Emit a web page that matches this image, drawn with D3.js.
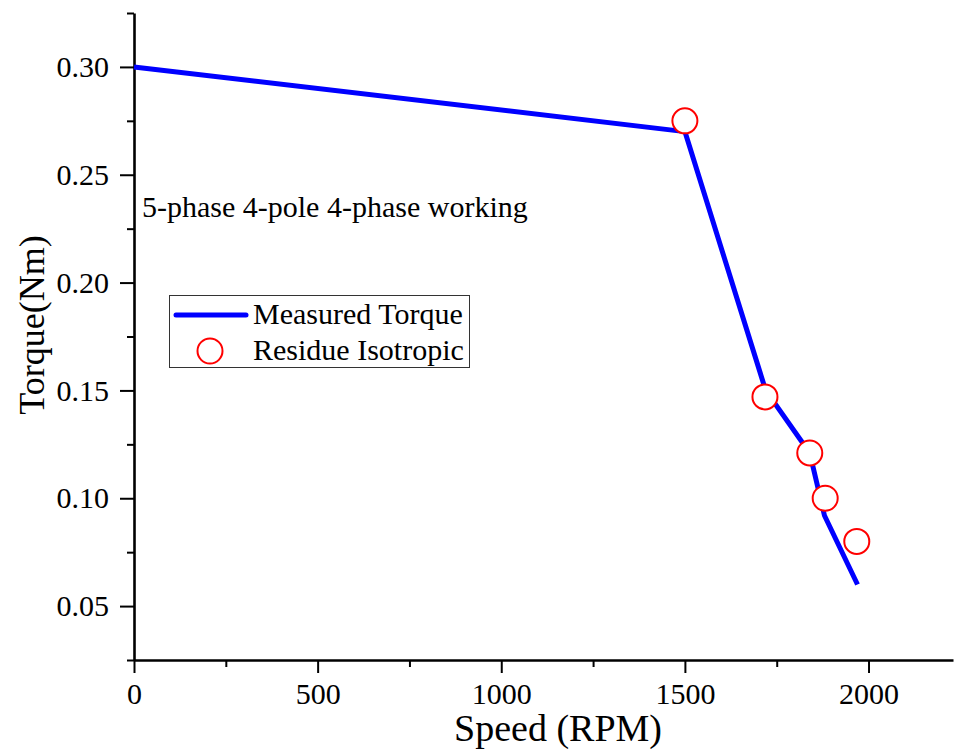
<!DOCTYPE html>
<html>
<head>
<meta charset="utf-8">
<script src="https://cdn.jsdelivr.net/npm/d3@7"></script>
<style>
  body { margin: 0; background: #fff; }
  svg { display: block; }
  text { font-family: "Liberation Serif", "Times New Roman", serif; fill: #000; }
</style>
</head>
<body>
<div id="chart"></div>
<script>
// measured torque curve
const lineSpeed = [0, 1500, 1720, 1840, 1880, 1970];
const lineTorque = [0.3, 0.27, 0.15, 0.121, 0.092, 0.06];

// residue isotropic points
const markSpeed = [1500, 1718, 1840, 1882, 1968];
const markTorque = [0.275, 0.147, 0.121, 0.1, 0.08];

const xTicks = [0, 500, 1000, 1500, 2000];
const yTicks = [0.05, 0.1, 0.15, 0.2, 0.25, 0.3];

const seriesNames = ["Measured Torque", "Residue Isotropic"];
const note = "5-phase 4-pole 4-phase working";

const width = 954,
  height = 753;
const margin = { top: 13, right: 0, bottom: 93, left: 134 };
const serif = '"Liberation Serif", "Times New Roman", serif';

const svg = d3
  .select("#chart")
  .append("svg")
  .attr("width", width)
  .attr("height", height);

const x = d3
  .scaleLinear()
  .domain([0, 2230])
  .range([margin.left, width - 1]);

const y = d3
  .scaleLinear()
  .domain([0.025, 0.325])
  .range([height - margin.bottom, margin.top]);

// minor ticks first
const xMinor = d3.range(250, 2230, 500);
const yMinor = d3.range(0.025, 0.326, 0.05);

svg
  .append("g")
  .attr("transform", `translate(0,${y(0.025)})`)
  .call(d3.axisBottom(x).tickValues(xMinor).tickSize(7).tickFormat(""))
  .call((g) => g.select(".domain").remove())
  .call((g) => g.selectAll("line").attr("stroke-width", 2));

svg
  .append("g")
  .attr("transform", `translate(${x(0)},0)`)
  .call(d3.axisLeft(y).tickValues(yMinor).tickSize(7).tickFormat(""))
  .call((g) => g.select(".domain").remove())
  .call((g) => g.selectAll("line").attr("stroke-width", 2));

const xAxis = svg
  .append("g")
  .attr("transform", `translate(0,${y(0.025)})`)
  .call(
    d3
      .axisBottom(x)
      .tickValues(xTicks)
      .tickSize(13)
      .tickSizeOuter(0)
      .tickPadding(10)
      .tickFormat(d3.format("d"))
  );

const yAxis = svg
  .append("g")
  .attr("transform", `translate(${x(0)},0)`)
  .call(
    d3
      .axisLeft(y)
      .tickValues(yTicks)
      .tickSize(14)
      .tickSizeOuter(0)
      .tickPadding(11)
      .tickFormat(d3.format(".2f"))
  );

[xAxis, yAxis].forEach((g) => {
  g.attr("font-family", serif).attr("font-size", 30);
  g.select(".domain").attr("stroke-width", 2.6);
  g.selectAll(".tick line").attr("stroke-width", 2);
  g.selectAll("text").attr("fill", "#000");
});

// axis titles
svg
  .append("text")
  .attr("x", 558)
  .attr("y", 741)
  .attr("text-anchor", "middle")
  .style("font-size", "38px")
  .text("Speed (RPM)");

svg
  .append("text")
  .attr("transform", "translate(44,325) rotate(-90)")
  .attr("text-anchor", "middle")
  .style("font-size", "36px")
  .text("Torque(Nm)");

// curve
const pts = lineSpeed.map((s, i) => [s, lineTorque[i]]);
svg
  .append("path")
  .datum(pts)
  .attr("fill", "none")
  .attr("stroke", "#0000ff")
  .attr("stroke-width", 5)
  .attr("stroke-linejoin", "round")
  .attr(
    "d",
    d3
      .line()
      .x((d) => x(d[0]))
      .y((d) => y(d[1]))
  );

const marks = markSpeed.map((s, i) => [s, markTorque[i]]);
svg
  .append("g")
  .selectAll("circle")
  .data(marks)
  .join("circle")
  .attr("cx", (d) => x(d[0]))
  .attr("cy", (d) => y(d[1]))
  .attr("r", 12.5)
  .attr("fill", "#fff")
  .attr("stroke", "#ff0000")
  .attr("stroke-width", 2);

// annotation
svg
  .append("text")
  .attr("x", 142)
  .attr("y", 217)
  .style("font-size", "30px")
  .text(note);

// legend
const legend = svg.append("g");
legend
  .append("rect")
  .attr("x", 169.5)
  .attr("y", 295.5)
  .attr("width", 300)
  .attr("height", 72)
  .attr("fill", "#fff")
  .attr("stroke", "#333")
  .attr("stroke-width", 1);

legend
  .append("line")
  .attr("x1", 176)
  .attr("x2", 246)
  .attr("y1", 315)
  .attr("y2", 315)
  .attr("stroke", "#0000ff")
  .attr("stroke-width", 5)
  .attr("stroke-linecap", "round");

legend
  .append("circle")
  .attr("cx", 210)
  .attr("cy", 351)
  .attr("r", 12.5)
  .attr("fill", "#fff")
  .attr("stroke", "#ff0000")
  .attr("stroke-width", 2);

legend
  .selectAll("text")
  .data(seriesNames)
  .join("text")
  .attr("x", 253)
  .attr("y", (d, i) => 324 + i * 36)
  .style("font-size", "30px")
  .text((d) => d);
</script>
</body>
</html>
